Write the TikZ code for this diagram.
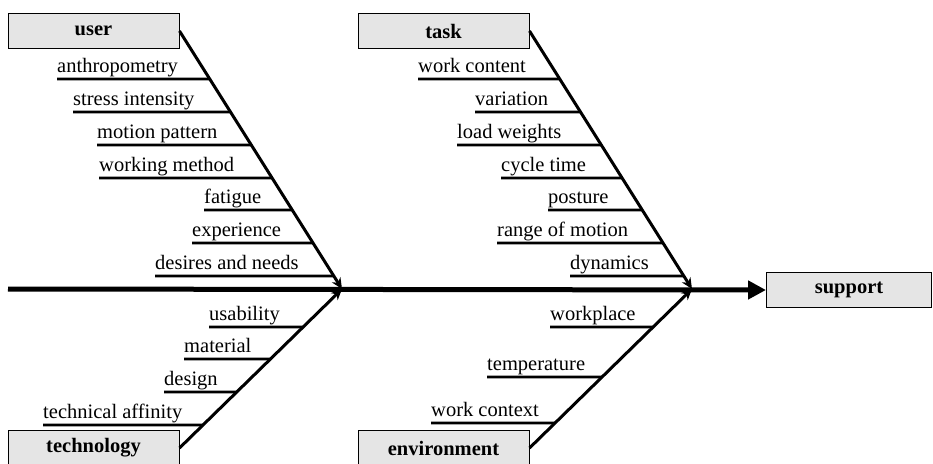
\documentclass[tikz,border=0pt]{standalone}
\usepackage{fontspec}
\setmainfont{Liberation Serif}
\usetikzlibrary{arrows.meta,calc}
\tikzset{
  catbox/.style={draw=black, line width=1pt, fill=black!10, minimum width=171pt, minimum height=35pt, inner sep=0pt, font=\fontsize{20.5}{24}\selectfont\bfseries},
  lbl/.style={anchor=base west, inner sep=0pt, font=\fontsize{20.5}{24}\selectfont},
  rib/.style={line width=2.6pt},
  diag/.style={line width=3pt, -{Stealth[length=11pt,width=10pt]}},
  spine/.style={line width=5pt, -{Triangle[length=18pt,width=18pt]}}
}
\newcommand\ribline[6]{%
  \coordinate (#1) at (#4,#5);
  \coordinate (#1r) at ({#4+10},#5);
  \node[lbl] (#1t) at (#4,{#5-7}) {#6};
  \draw[rib] (#1) -- (intersection cs: first line={(#2)--(#3)}, second line={(#1)--(#1r)});
}
\begin{document}
\begin{tikzpicture}[x=1pt,y=-1pt]
\useasboundingbox (0,0) rectangle (933,463);
\clip (0,0) rectangle (933,463);
% boxes
\node[catbox] (user) at (93.5,31) {user};
\node[catbox] (task) at (443.5,31) {task};
\node[catbox] (tech) at (93.5,448) {technology};
\node[catbox] (env) at (443.5,448) {environment};
\node[catbox, minimum width=165pt] (support) at (849,290) {support};
% spine
\coordinate (s0) at (8,289);
\coordinate (h1) at (342,289);
\coordinate (h2) at (692,289);
\draw[spine] (s0) -- (support.west);
% diagonals
\draw[diag] (user.east) -- (h1);
\draw[diag] (tech.east) -- (h1);
\draw[diag] (task.east) -- (h2);
\draw[diag] (env.east) -- (h2);
% user ribs
\ribline{u1}{user.east}{h1}{57}{79}{anthropometry}
\ribline{u2}{user.east}{h1}{73}{112}{stress intensity}
\ribline{u3}{user.east}{h1}{97}{145}{motion pattern}
\ribline{u4}{user.east}{h1}{99}{178}{working method}
\ribline{u5}{user.east}{h1}{204}{210}{fatigue}
\ribline{u6}{user.east}{h1}{192}{243}{experience}
\ribline{u7}{user.east}{h1}{155}{276}{desires and needs}
% task ribs
\ribline{t1}{task.east}{h2}{418}{79}{work content}
\ribline{t2}{task.east}{h2}{475}{112}{variation}
\ribline{t3}{task.east}{h2}{457}{145}{load weights}
\ribline{t4}{task.east}{h2}{501}{178}{cycle time}
\ribline{t5}{task.east}{h2}{548}{210}{posture}
\ribline{t6}{task.east}{h2}{497}{243}{range of motion}
\ribline{t7}{task.east}{h2}{570}{276}{dynamics}
% technology ribs
\ribline{c1}{tech.east}{h1}{209}{327}{usability}
\ribline{c2}{tech.east}{h1}{184}{359}{material}
\ribline{c3}{tech.east}{h1}{164}{392}{design}
\ribline{c4}{tech.east}{h1}{43}{425}{technical affinity}
% environment ribs
\ribline{e1}{env.east}{h2}{550}{327}{workplace}
\ribline{e2}{env.east}{h2}{487}{377}{temperature}
\ribline{e3}{env.east}{h2}{431}{423}{work context}
\end{tikzpicture}
\end{document}
